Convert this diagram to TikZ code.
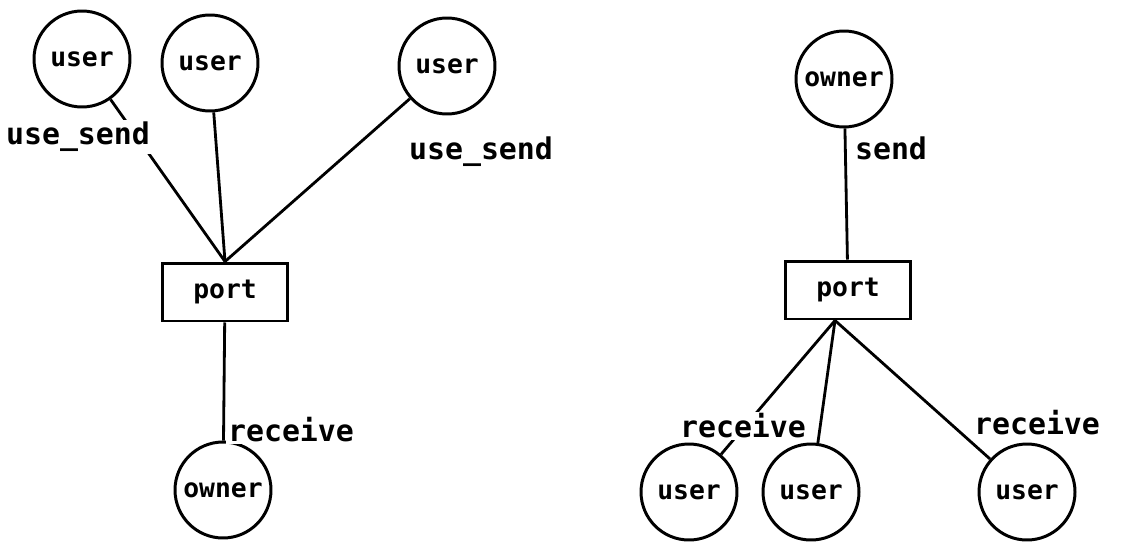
\documentclass[tikz,border=0pt]{standalone}
\usepackage{fontspec}
\setmonofont{DejaVu Sans Mono}
\begin{document}
\begin{tikzpicture}[x=0.02cm,y=-0.02cm,
  proc/.style={circle,draw,line width=1.7pt,minimum size=1.92cm,inner sep=0pt,
    font=\ttfamily\bfseries\fontsize{15}{15}\selectfont},
  portbox/.style={rectangle,draw,line width=1.7pt,minimum width=2.5cm,
    minimum height=1.16cm,font=\ttfamily\bfseries\fontsize{15}{15}\selectfont},
  link/.style={line width=1.6pt},
  lbl/.style={fill=white,inner sep=1pt,font=\ttfamily\bfseries\fontsize{17}{17}\selectfont}]
  \useasboundingbox (0,0) rectangle (1138,541);

  % left: users send to the port, owner receives
  \node[proc] (lu1) at (82,59) {user};
  \node[proc] (lu2) at (210,63) {user};
  \node[proc] (lu3) at (447,66) {user};
  \node[portbox] (lport) at (225,292) {port};
  \node[proc] (lown) at (223,490) {owner};

  \draw[link] (lu1) -- (lport.north);
  \draw[link] (lu2) -- (lport.north);
  \draw[link] (lu3) -- (lport.north);
  \draw[link] (lport) -- (lown);

  \node[lbl] (lsend1) at (78,137) {use\_send};
  \node[lbl] (lsend2) at (481,152) {use\_send};
  \node[lbl] (lrecv) at (291,430) {receive};

  % right: owner sends to the port, users receive
  \node[proc] (rown) at (844,79) {owner};
  \node[portbox] (rport) at (848,290) {port};
  \coordinate (rfoot) at ([xshift=-0.26cm]rport.south);
  \node[proc] (ru1) at (689,492) {user};
  \node[proc] (ru2) at (811,492) {user};
  \node[proc] (ru3) at (1027,492) {user};

  \draw[link] (rown) -- (rport);
  \draw[link] (rfoot) -- (ru1);
  \draw[link] (rfoot) -- (ru2);
  \draw[link] (rfoot) -- (ru3);

  \node[lbl] (rsend) at (891,148) {send};
  \node[lbl] (rrecv1) at (743,426) {receive};
  \node[lbl] (rrecv2) at (1037,423) {receive};
\end{tikzpicture}
\end{document}
